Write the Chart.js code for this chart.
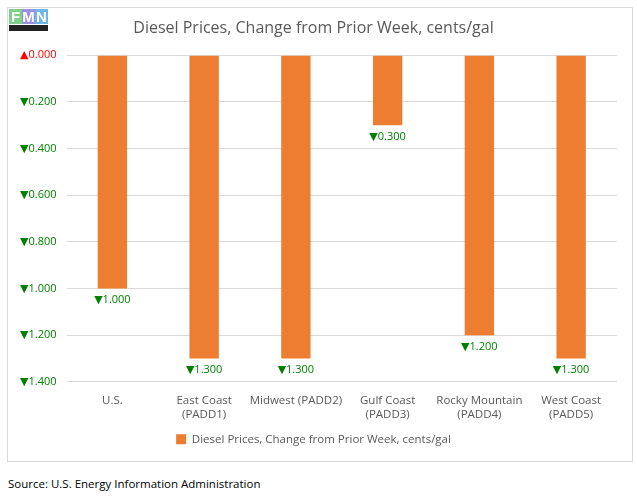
<!DOCTYPE html>
<html>
<head>
<meta charset="utf-8">
<script src="https://cdn.jsdelivr.net/npm/chart.js@4.4.1/dist/chart.umd.min.js"></script>
<style>
  body { margin: 0; background: #fff; font-family: 'Open Sans', sans-serif; }
  #box { position: absolute; left: 7px; top: 7px; width: 624px; height: 453px; border: 1px solid #d9d9d9; }
  #logo { position: absolute; left: 9px; top: 9px; width: 39px; height: 22px; font: bold 15px 'Liberation Sans', sans-serif; line-height: 15px; }
  #logo span { display: inline-block; width: 13px; text-align: center; color: #fff; }
  #logo .sub { position: absolute; left: 0; top: 16px; width: 39px; height: 6px; background: #222; }
  #source { position: absolute; left: 8px; top: 476px; font: 11.5px 'Open Sans', sans-serif; color: #000; }
</style>
</head>
<body>
<div id="box"><canvas id="chart" width="624" height="453"></canvas></div>
<div id="logo"><span style="background:#7fd18a">F</span><span style="background:#9a8fe0">M</span><span style="background:#6fb6e8">N</span><div class="sub"></div></div>
<div id="source">Source: U.S. Energy Information Administration</div>
<script>
// ── Data ──
const categories = [['U.S.'], ['East Coast', '(PADD1)'], ['Midwest (PADD2)'], ['Gulf Coast', '(PADD3)'], ['Rocky Mountain', '(PADD4)'], ['West Coast', '(PADD5)']];
const changes = [-1.0, -1.3, -1.3, -0.3, -1.2, -1.3];
const seriesName = 'Diesel Prices, Change from Prior Week, cents/gal';

const fmt = v => (v >= -1e-9 ? '\u25B2' : '\u25BC') + Math.abs(v).toFixed(3);
const tickColor = v => (v >= -1e-9 ? '#ff0000' : '#008000');
const numFont = "'Open Sans', 'DejaVu Sans'";

// ── Value labels under each bar end ──
const valueLabels = {
  id: 'valueLabels',
  afterDatasetsDraw(chart) {
    const ctx = chart.ctx;
    const meta = chart.getDatasetMeta(0);
    ctx.save();
    ctx.font = '11px ' + numFont;
    ctx.textAlign = 'center';
    ctx.textBaseline = 'top';
    meta.data.forEach((bar, i) => {
      const v = changes[i];
      ctx.fillStyle = tickColor(v);
      ctx.fillText(fmt(v), bar.x, bar.y + 6);
    });
    ctx.restore();
  }
};

new Chart(document.getElementById('chart'), {
  type: 'bar',
  data: {
    labels: categories,
    datasets: [{
      label: seriesName,
      data: changes,
      backgroundColor: '#ed7d31',
      borderWidth: 0,
      categoryPercentage: 1,
      barPercentage: 0.32
    }]
  },
  options: {
    responsive: false,
    animation: false,
    layout: { padding: { left: 2, right: 15, top: 0, bottom: 6 } },
    plugins: {
      title: {
        display: true,
        text: seriesName,
        color: '#595959',
        font: { family: 'Open Sans', size: 16, weight: 'normal' },
        padding: { top: 11, bottom: 17 }
      },
      legend: {
        position: 'bottom',
        labels: {
          color: '#595959',
          font: { family: 'Open Sans', size: 11.5 },
          boxWidth: 10,
          boxHeight: 10,
          padding: 8
        }
      },
      tooltip: { enabled: false }
    },
    scales: {
      y: {
        min: -1.4,
        max: 0,
        ticks: {
          stepSize: 0.2,
          callback: v => fmt(v),
          color: c => tickColor(c.tick.value),
          font: { family: numFont, size: 11 },
          padding: 10
        },
        grid: { color: '#d9d9d9', drawTicks: false },
        border: { display: false }
      },
      x: {
        ticks: {
          color: '#595959',
          font: { family: 'Open Sans', size: 11.5 },
          maxRotation: 0,
          autoSkip: false,
          padding: 4
        },
        grid: { display: false },
        border: { display: false }
      }
    }
  },
  plugins: [valueLabels]
});
</script>
</body>
</html>
